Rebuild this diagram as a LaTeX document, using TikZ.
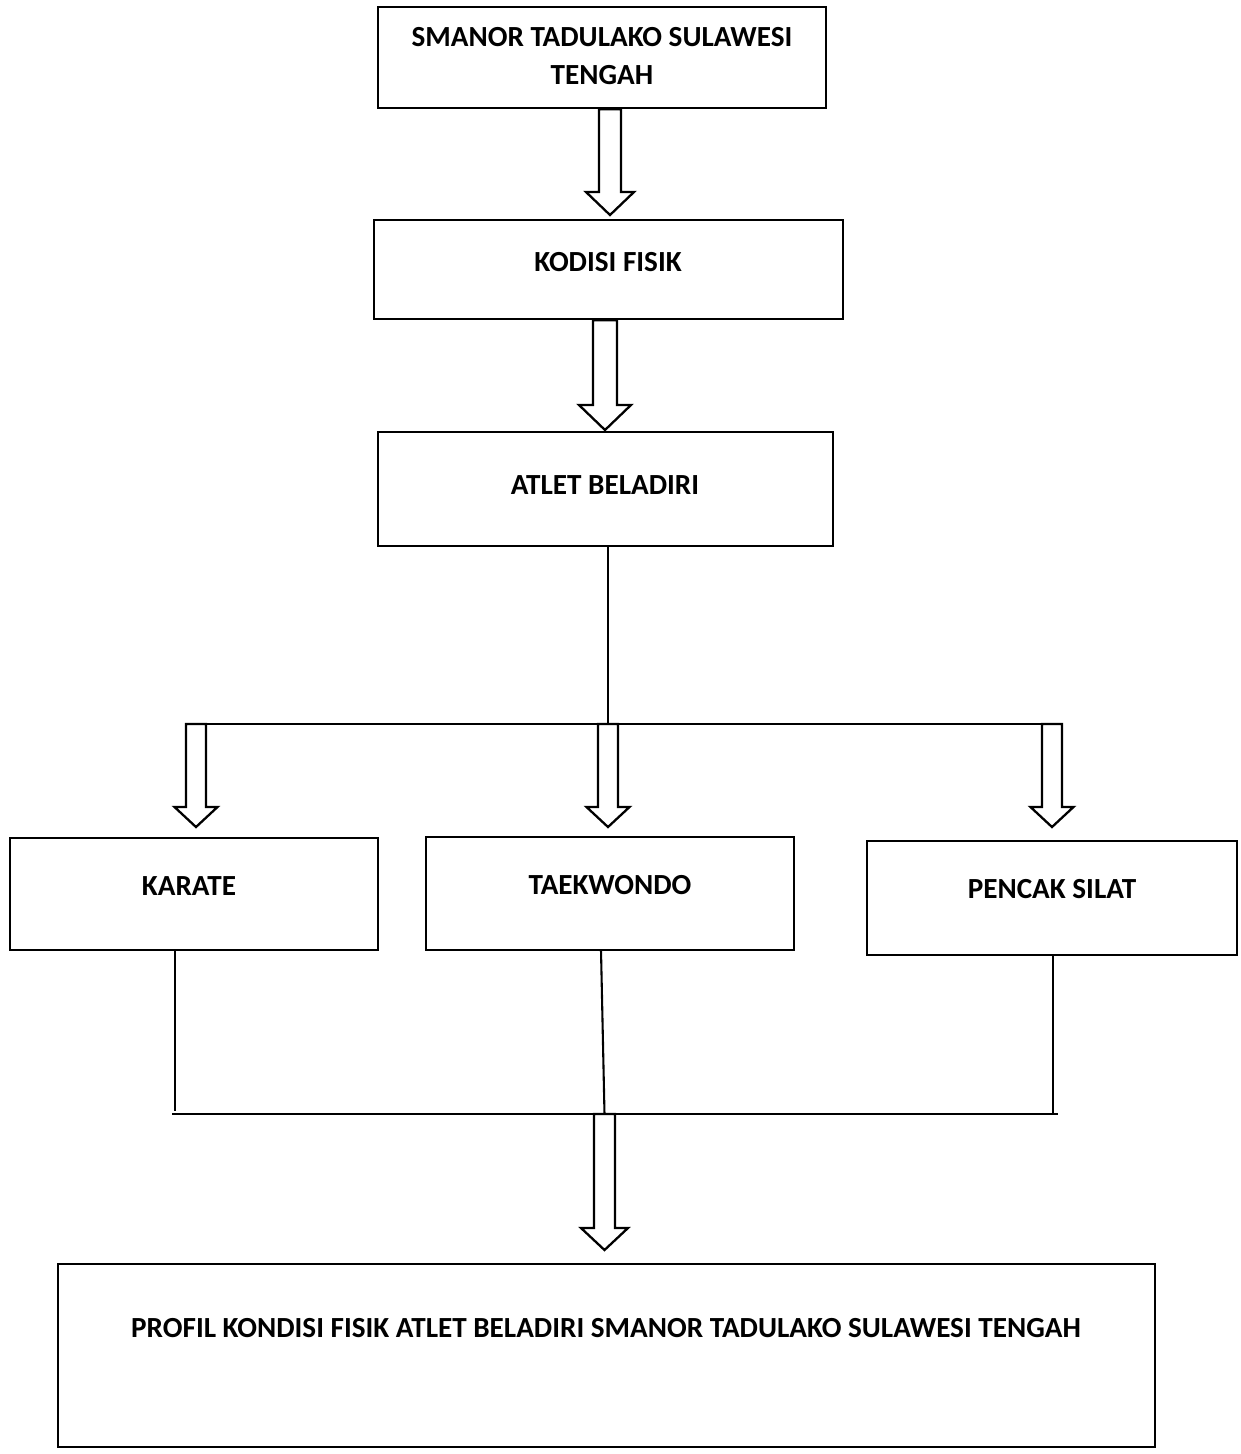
\documentclass[tikz,border=0pt]{standalone}
\usepackage{fontspec}
\setmainfont{Carlito}
\usetikzlibrary{fit,calc}
\tikzset{
  box/.style={draw, line width=1.25pt, inner sep=0pt, fill=none},
  lbl/.style={font=\fontsize{14}{18.2}\selectfont\bfseries, align=center, inner sep=0pt},
  conn/.style={line width=1pt},
  arrowshape/.style={draw, fill=white, line width=1.1pt, line join=miter},
}
% #1 start, #2 tip, #3 shaft half width, #4 head half width, #5 head length (px)
\newcommand\blockarrow[5]{%
  \draw[arrowshape] let \p1=(#1), \p2=(#2) in
    ({\x1-#3*0.48pt},\y1) -- ({\x1-#3*0.48pt},{\y2+#5*0.48pt}) -- ({\x1-#4*0.48pt},{\y2+#5*0.48pt})
    -- (\x1,\y2) -- ({\x1+#4*0.48pt},{\y2+#5*0.48pt}) -- ({\x1+#3*0.48pt},{\y2+#5*0.48pt})
    -- ({\x1+#3*0.48pt},\y1) -- cycle;}
\begin{document}
\begin{tikzpicture}[x=0.48pt,y=-0.48pt]
\useasboundingbox (0,0) rectangle (1241,1454);
% boxes
\node[box, fit={(378,7) (826,108)}] (top) {};
\node[box, fit={(374,220) (843,319)}] (kod) {};
\node[box, fit={(378,432) (833,546)}] (atl) {};
\node[box, fit={(10,838) (378,950)}] (kar) {};
\node[box, fit={(426,837) (794,950)}] (tae) {};
\node[box, fit={(867,841) (1237,955)}] (pen) {};
\node[box, fit={(58,1264) (1155,1447)}] (pro) {};
% texts
\node[lbl] (ttop) at (602,56) {SMANOR TADULAKO SULAWESI\\TENGAH};
\node[lbl] (tkod) at (608,262) {KODISI FISIK};
\node[lbl] (tatl) at (605,485) {ATLET BELADIRI};
\node[lbl] (tkar) at (189,886) {KARATE};
\node[lbl] (ttae) at (610,885) {TAEKWONDO};
\node[lbl] (tpen) at (1052,889) {PENCAK SILAT};
\node[lbl] (tpro) at (606,1328) {PROFIL KONDISI FISIK ATLET BELADIRI SMANOR TADULAKO SULAWESI TENGAH};
% coordinates
\coordinate (a1s) at (top.south -| 610,0);
\coordinate (a1t) at (610,215);
\coordinate (a2s) at (kod.south -| 605,0);
\coordinate (a2t) at (605,430);
\coordinate (split) at (608,724);
\coordinate (hl) at (186,724);
\coordinate (hr) at (1062,724);
\coordinate (k1) at (196,724);
\coordinate (k1t) at (196,827);
\coordinate (k2) at (608,724);
\coordinate (k2t) at (608,827);
\coordinate (k3) at (1052,724);
\coordinate (k3t) at (1052,827);
\coordinate (jl) at (172,1114);
\coordinate (jr) at (1058,1114);
\coordinate (jm) at (604.5,1114);
\coordinate (jt) at (604.5,1250);
% connectors
\blockarrow{a1s}{a1t}{11}{24}{23}
\blockarrow{a2s}{a2t}{12}{26}{25}
\draw[conn] (atl.south -| split) -- (split);
\draw[conn] (hl) -- (hr);
\blockarrow{k1}{k1t}{10}{21.5}{20}
\blockarrow{k2}{k2t}{10}{21.5}{20}
\blockarrow{k3}{k3t}{10}{21.5}{20}
\draw[conn] (kar.south -| 175,0) -- (175,1111);
\draw[conn] (601,950) -- (jm);
\draw[conn] (pen.south -| 1053,0) -- (1053,1113);
\draw[conn] (jl) -- (jr);
\blockarrow{jm}{jt}{10.5}{23.5}{22}
\end{tikzpicture}
\end{document}
